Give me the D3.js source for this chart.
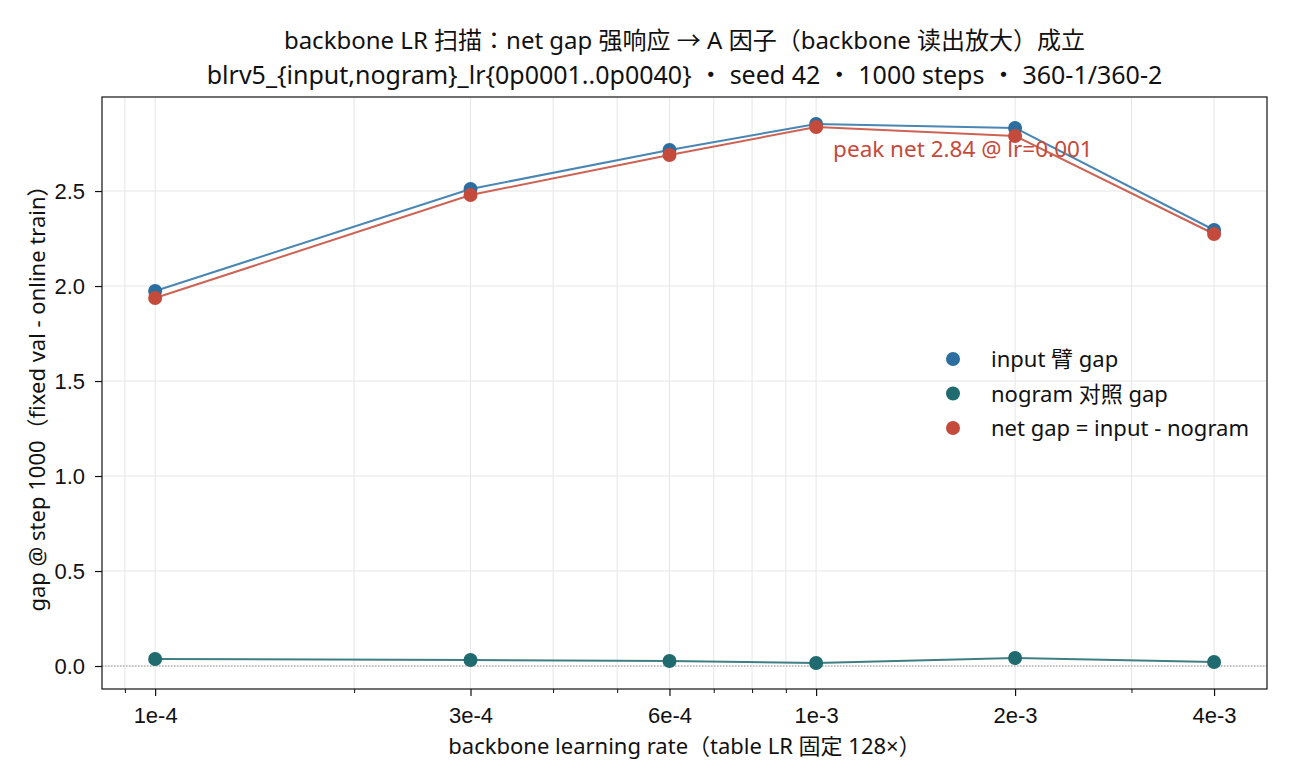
<!DOCTYPE html>
<html>
<head>
<meta charset="utf-8">
<script src="https://cdn.jsdelivr.net/npm/d3@7"></script>
<style>
  body { margin:0; background:#fff; }
  svg { font-family: "Noto Sans", "Noto Sans CJK JP", sans-serif; }
</style>
</head>
<body>
<svg id="chart" width="1290" height="780"></svg>
<script>
// data
const lrs        = [1e-4, 3e-4, 6e-4, 1e-3, 2e-3, 4e-3];
const tickLabels = ["1e-4", "3e-4", "6e-4", "1e-3", "2e-3", "4e-3"];
const inputGap   = [1.974, 2.511, 2.716, 2.853, 2.832, 2.295];
const nogramGap  = [0.037, 0.032, 0.026, 0.016, 0.042, 0.021];
const netGap     = [1.937, 2.479, 2.690, 2.837, 2.790, 2.274];
const yTicks     = [0, 0.5, 1.0, 1.5, 2.0, 2.5];
const minorLrs   = [9e-5, 2e-4, 4e-4, 5e-4, 7e-4, 8e-4, 9e-4, 3e-3];

const series = [
  { name: "input 臂 gap",            values: inputGap,  dot: "#2c6e9f", line: "#4a86b3" },
  { name: "nogram 对照 gap",         values: nogramGap, dot: "#206b70", line: "#3f7f83" },
  { name: "net gap = input - nogram", values: netGap,    dot: "#c44a3c", line: "#cc6355" }
];

const svg = d3.select("#chart");
const margin = { top: 97, right: 23, bottom: 91, left: 102 };
const W = 1290 - margin.left - margin.right;
const H = 780 - margin.top - margin.bottom;

const x = d3.scaleLog().domain([8.31e-5, 4.81e-3]).range([0, W]);
const y = d3.scaleLinear().domain([-0.121, 2.995]).range([H, 0]);

const g = svg.append("g").attr("transform", `translate(${margin.left},${margin.top})`);

// grid
g.append("g").selectAll("line").data(lrs.concat(minorLrs)).join("line")
  .attr("x1", d => x(d)).attr("x2", d => x(d))
  .attr("y1", 0).attr("y2", H)
  .attr("stroke", "#e6e6e6").attr("stroke-width", 1);
g.append("g").selectAll("line").data(yTicks).join("line")
  .attr("x1", 0).attr("x2", W)
  .attr("y1", d => y(d)).attr("y2", d => y(d))
  .attr("stroke", "#e6e6e6").attr("stroke-width", 1);

// zero line
g.append("line")
  .attr("x1", 0).attr("x2", W).attr("y1", y(0)).attr("y2", y(0))
  .attr("stroke", "#999").attr("stroke-width", 1).attr("stroke-dasharray", "1.5,1.5");

// lines + dots
const line = d3.line().x((d, i) => x(lrs[i])).y(d => y(d));
series.forEach(s => {
  g.append("path").datum(s.values)
    .attr("fill", "none").attr("stroke", s.line).attr("stroke-width", 2)
    .attr("d", line);
});
series.forEach(s => {
  g.append("g").selectAll("circle").data(s.values).join("circle")
    .attr("cx", (d, i) => x(lrs[i])).attr("cy", d => y(d))
    .attr("r", 7).attr("fill", s.dot);
});

// peak annotation
const peakI = d3.maxIndex(netGap);
g.append("text")
  .attr("x", x(lrs[peakI]) + 17).attr("y", y(netGap[peakI]) + 30)
  .attr("fill", "#c44a3c").attr("font-size", 22.5)
  .text(`peak net ${netGap[peakI].toFixed(2)} @ lr=0.001`);

// axes
const xAxis = g.append("g").attr("transform", `translate(0,${H})`)
  .call(d3.axisBottom(x).tickValues(lrs).tickFormat((d, i) => tickLabels[i]).tickSize(7).tickPadding(11));
xAxis.select(".domain").remove();
xAxis.selectAll("text").attr("font-size", 22).attr("fill", "#111");
xAxis.selectAll("line").attr("stroke", "#111").attr("stroke-width", 1.2);
g.append("g").attr("transform", `translate(0,${H})`)
  .call(d3.axisBottom(x).tickValues(minorLrs).tickFormat("").tickSize(4))
  .call(a => a.selectAll("line").attr("stroke", "#111"))
  .select(".domain").remove();

const yAxis = g.append("g")
  .call(d3.axisLeft(y).tickValues(yTicks).tickFormat(d3.format(".1f")).tickSize(7).tickPadding(10));
yAxis.select(".domain").remove();
yAxis.selectAll("text").attr("font-size", 22).attr("fill", "#111");
yAxis.selectAll("line").attr("stroke", "#111").attr("stroke-width", 1.2);

g.append("rect").attr("width", W).attr("height", H)
  .attr("fill", "none").attr("stroke", "#111").attr("stroke-width", 1.2);

// axis labels
g.append("text").attr("x", W / 2).attr("y", H + 65).attr("text-anchor", "middle")
  .attr("font-size", 22).attr("fill", "#111")
  .text("backbone learning rate（table LR 固定 128×）");
g.append("text").attr("transform", "rotate(-90)")
  .attr("x", -H / 2).attr("y", -57).attr("text-anchor", "middle")
  .attr("font-size", 22).attr("fill", "#111")
  .text("gap @ step 1000（fixed val - online train）");

// title
svg.append("text").attr("x", margin.left + W / 2).attr("y", 49).attr("text-anchor", "middle")
  .attr("font-size", 24).attr("fill", "#111")
  .text("backbone LR 扫描：net gap 强响应 → A 因子（backbone 读出放大）成立");
svg.append("text").attr("x", margin.left + W / 2).attr("y", 84).attr("text-anchor", "middle")
  .attr("font-size", 25).attr("fill", "#111")
  .text("blrv5_{input,nogram}_lr{0p0001..0p0040} ・ seed 42 ・ 1000 steps ・ 360-1/360-2");

// legend
const legend = svg.append("g").attr("transform", "translate(953,359)");
series.forEach((s, i) => {
  const row = legend.append("g").attr("transform", `translate(0,${i * 34.5})`);
  row.append("circle").attr("r", 7).attr("fill", s.dot);
  row.append("text").attr("x", 38).attr("y", 8).attr("font-size", 22).attr("fill", "#111").text(s.name);
});
</script>
</body>
</html>
